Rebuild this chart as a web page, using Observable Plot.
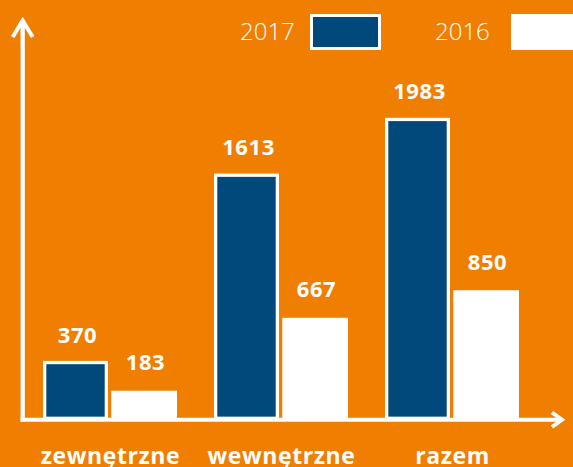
<!DOCTYPE html>
<html>
<head>
<meta charset="utf-8">
<script src="https://cdn.jsdelivr.net/npm/d3@7"></script>
<script src="https://cdn.jsdelivr.net/npm/@observablehq/plot@0.6"></script>
<style>
  html, body { margin: 0; padding: 0; background: #F07E00; overflow: hidden; }
  #wrap { position: relative; width: 573px; height: 467px; }
  #wrap svg text { letter-spacing: 0.6px; }
  .leg-text { position: absolute; font-family: "Open Sans", sans-serif; font-weight: 300; font-size: 24px; line-height: 24px; color: #fff; }
  .leg-box { position: absolute; box-sizing: border-box; }
</style>
</head>
<body>
<div id="wrap"></div>
<script>
const categories = ["zewnętrzne", "wewnętrzne", "razem"];
const values2017 = [370, 1613, 1983];
const values2016 = [183, 667, 850];
const years = ["2017", "2016"];

const ORANGE = "#F07E00";
const BLUE = "#01497A";
const WHITE = "#FFFFFF";

const rows2017 = categories.map((c, i) => ({category: c, year: years[0], value: values2017[i]}));
const rows2016 = categories.map((c, i) => ({category: c, year: years[1], value: values2016[i]}));

const plot = Plot.plot({
  width: 573,
  height: 467,
  marginLeft: 24.1,
  marginRight: 35.3,
  marginTop: 41.55,
  marginBottom: 48.7,
  style: {background: "transparent", color: WHITE, fontFamily: "'Open Sans', sans-serif", fontSize: "23px", fontWeight: "bold"},
  x: {domain: categories, paddingInner: 0.2173, paddingOuter: 0.10865, align: 0.5, tickSize: 0, tickPadding: 29, label: null},
  y: {domain: [0, 2500], axis: null},
  marks: [
    Plot.barY(rows2017, {x: "category", y: "value", fill: BLUE, stroke: WHITE, strokeWidth: 3.3, insetLeft: 1.65, insetRight: 70.65}),
    Plot.barY(rows2016, {x: "category", y: "value", fill: WHITE, insetLeft: 68.3, insetRight: 0}),
    Plot.text(rows2017, {x: "category", y: "value", text: d => String(d.value), dx: -33, dy: -20.5, lineAnchor: "bottom", fill: WHITE, fontSize: 22, fontWeight: "bold"}),
    Plot.text(rows2016, {x: "category", y: "value", text: d => String(d.value), dx: 35, dy: -21, lineAnchor: "bottom", fill: WHITE, fontSize: 22, fontWeight: "bold"})
  ]
});

const wrap = document.getElementById("wrap");
wrap.appendChild(plot);

// axis lines with arrowheads (decoration, anchored to the plot's frame)
const svg = d3.select(plot);
const yScale = plot.scale("y");
const y0 = yScale.range[0];          // baseline (value 0)
const axisY = y0 + 1.4;             // x-axis line centre
const axisX = 24.1 - 1.4;           // y-axis line centre
const g = svg.append("g").attr("fill", "none").attr("stroke", WHITE).attr("stroke-linejoin", "miter");
g.append("line").attr("x1", axisX).attr("x2", axisX).attr("y1", 20).attr("y2", axisY + 2).attr("stroke-width", 4.3);
g.append("line").attr("x1", axisX - 2.1).attr("x2", 561).attr("y1", axisY).attr("y2", axisY).attr("stroke-width", 4);
g.append("polyline").attr("points", `${axisX - 10},37 ${axisX},20.5 ${axisX + 10},37`).attr("stroke-width", 4);
g.append("polyline").attr("points", `552,412.5 562,${axisY} 552,427`).attr("stroke-width", 4);

// legend
function addText(txt, left, top) {
  const s = document.createElement("div");
  s.className = "leg-text";
  s.textContent = txt;
  s.style.left = left + "px";
  s.style.top = top + "px";
  wrap.appendChild(s);
}
function addBox(left, top, w, h, fill, border) {
  const b = document.createElement("div");
  b.className = "leg-box";
  Object.assign(b.style, {left: left + "px", top: top + "px", width: w + "px", height: h + "px", background: fill, border: border});
  wrap.appendChild(b);
}
addText(years[0], 240, 18.7);
addBox(309.6, 14.3, 71.2, 35.7, BLUE, "3.7px solid " + WHITE);
addText(years[1], 435, 18.7);
addBox(511, 14.3, 70, 35.7, WHITE, "none");
</script>
</body>
</html>
